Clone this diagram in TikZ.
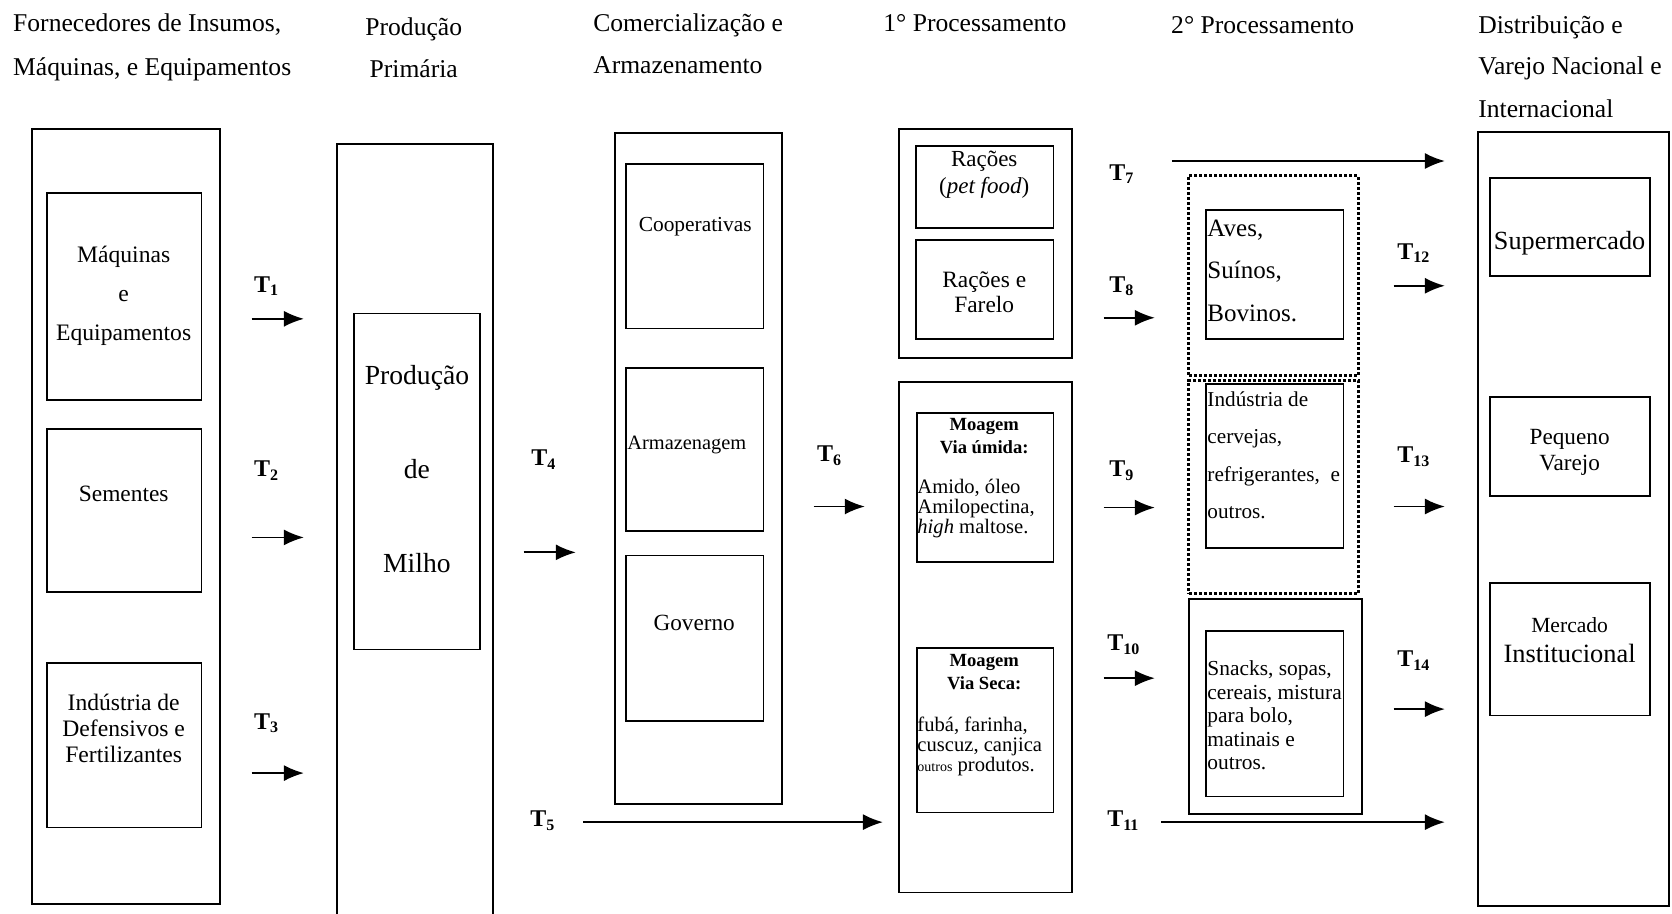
\documentclass[tikz,border=0pt]{standalone}
\usepackage{fontspec}
\setmainfont{Liberation Serif}
\usetikzlibrary{arrows.meta,fit}
\newcommand{\fsz}[2]{\fontsize{#1}{#2}\selectfont}
\begin{document}
\begin{tikzpicture}[x=0.53316pt,y=-0.53316pt,
  box/.style={draw, line width=0.9pt, inner sep=0pt},
  dbox/.style={draw, line width=1.5pt, densely dotted, inner sep=0pt},
  flow/.style={line width=0.9pt, -{Latex[length=10pt,width=8pt]}},
  tlab/.style={font=\fsz{12}{14}\bfseries, anchor=base west, inner sep=0pt},
  hd/.style={font=\fsz{12.8}{15}, anchor=base west, inner sep=0pt},
  hdc/.style={font=\fsz{12.8}{15}, anchor=base, inner sep=0pt},
  txt/.style={inner sep=0pt, align=center},
  ltxt/.style={inner sep=0pt, align=left, anchor=west},
]
\useasboundingbox (0,0) rectangle (1568,857);

% headers
\node[hd] (h1a) at (12,30) {Fornecedores de Insumos,};
\node[hd] (h1b) at (12,71) {Máquinas, e Equipamentos};
\node[hdc] (h2a) at (388,33) {Produção};
\node[hdc] (h2b) at (388,73) {Primária};
\node[hd] (h3a) at (556,30) {Comercialização e};
\node[hd] (h3b) at (556,69) {Armazenamento};
\node[hd] (h4) at (828,30) {1° Processamento};
\node[hd] (h5) at (1098,31) {2° Processamento};
\node[hd] (h6a) at (1386,31) {Distribuição e};
\node[hd] (h6b) at (1386,70) {Varejo Nacional e};
\node[hd] (h6c) at (1386,110) {Internacional};

% column 1
\node[box, fit={(30,121) (206,848)}] (c1) {};
\node[box, fit={(44,181) (189,375)}] (maqb) {};
\node[txt, font=\fsz{11.8}{19.5}] (maqt) at (116,277) {Máquinas\\e\\Equipamentos};
\node[box, fit={(44,402) (189,555)}] (semb) {};
\node[txt, font=\fsz{11.7}{14}] (semt) at (116,463) {Sementes};
\node[box, fit={(44,622) (189,776)}] (indb) {};
\node[txt, font=\fsz{11.8}{12.8}] (indt) at (116,683) {Indústria de\\Defensivos e\\Fertilizantes};

% column 2
\begin{scope}
\clip (0,0) rectangle (1568,857);
\node[box, fit={(316,135) (462,880)}] (c2) {};
\end{scope}
\node[box, fit={(332,294) (450,609)}] (milb) {};
\node[txt, font=\fsz{13.8}{47}] (milt) at (391,440) {Produção\\de\\Milho};

% column 3
\node[box, fit={(577,125) (733,754)}] (c3) {};
\node[box, fit={(587,154) (716,308)}] (coopb) {};
\node[txt, font=\fsz{10.7}{13}] (coopt) at (652,213) {Cooperativas};
\node[box, fit={(587,345) (716,498)}] (armb) {};
\node[ltxt, font=\fsz{10.2}{13}] (armt) at (588,417) {Armazenagem};
\node[box, fit={(587,521) (716,676)}] (govb) {};
\node[txt, font=\fsz{11.6}{14}] (govt) at (651,584) {Governo};

% column 4
\node[box, fit={(843,121) (1005,336)}] (c4a) {};
\node[box, fit={(859,137) (988,214)}] (petb) {};
\node[txt, font=\fsz{11.5}{13.3}] (pett) at (923,164) {Rações\\(\textit{pet food})};
\node[box, fit={(859,225) (988,318)}] (farb) {};
\node[txt, font=\fsz{11.7}{12.8}] (fart) at (923,274) {Rações e\\Farelo};
\node[box, fit={(843,358) (1005,837)}] (c4b) {};
\node[box, fit={(860,387) (988,527)}] (umb) {};
\node[txt, font=\fsz{9.3}{11.3}\bfseries] (umh) at (923,409) {Moagem\\Via úmida:};
\node[ltxt, font=\fsz{10.3}{10.1}] (umt) at (860,477) {Amido, óleo\\Amilopectina,\\\textit{high} maltose.};
\node[box, fit={(860,608) (988,762)}] (secb) {};
\node[txt, font=\fsz{9.3}{11.3}\bfseries] (sech) at (923,630) {Moagem\\Via Seca:};
\node[ltxt, font=\fsz{10.3}{10.1}] (sect) at (860,700) {fubá, farinha,\\cuscuz, canjica\\{\fsz{7}{8}outros} produtos.};

% column 5
\node[dbox, fit={(1115,165) (1274,352)}] (d1) {};
\node[box, fit={(1131,197) (1260,318)}] (avb) {};
\node[ltxt, font=\fsz{12.5}{21.3}] (avt) at (1132,254) {Aves,\\Suínos,\\Bovinos.};
\node[dbox, fit={(1115,357) (1274,557)}] (d2) {};
\node[box, fit={(1131,360) (1260,514)}] (cvb) {};
\node[ltxt, font=\fsz{10.6}{18.7}] (cvt) at (1132,427) {Indústria de\\cervejas,\\refrigerantes,~ e\\outros.};
\node[box, fit={(1115,562) (1277,763)}] (s3) {};
\node[box, fit={(1131,592) (1260,747)}] (snb) {};
\node[ltxt, font=\fsz{10.7}{11.7}] (snt) at (1132,671) {Snacks, sopas,\\cereais, mistura\\para bolo,\\matinais e\\outros.};

% column 6
\node[box, fit={(1386,124) (1565,850)}] (c6) {};
\node[box, fit={(1397,167) (1547,259)}] (supb) {};
\node[txt, font=\fsz{13.1}{15}] (supt) at (1472,228) {Supermercado};
\node[box, fit={(1397,372) (1547,465)}] (peqb) {};
\node[txt, font=\fsz{11.6}{12.8}] (peqt) at (1472,424) {Pequeno\\Varejo};
\node[box, fit={(1397,547) (1547,671)}] (merb) {};
\node[txt, font=\fsz{13.2}{15}] (mert) at (1472,600) {{\fsz{10.8}{15}Mercado}\\Institucional};

% transaction labels
\node[tlab] (t1) at (238,274) {T\textsubscript{1}};
\node[tlab] (t2) at (238,447) {T\textsubscript{2}};
\node[tlab] (t3) at (238,684) {T\textsubscript{3}};
\node[tlab] (t4) at (498,437) {T\textsubscript{4}};
\node[tlab] (t5) at (497,775) {T\textsubscript{5}};
\node[tlab] (t6) at (766,433) {T\textsubscript{6}};
\node[tlab] (t7) at (1040,169) {T\textsubscript{7}};
\node[tlab] (t8) at (1040,274) {T\textsubscript{8}};
\node[tlab] (t9) at (1040,447) {T\textsubscript{9}};
\node[tlab] (t10) at (1038,610) {T\textsubscript{10}};
\node[tlab] (t11) at (1038,775) {T\textsubscript{11}};
\node[tlab] (t12) at (1310,243) {T\textsubscript{12}};
\node[tlab] (t13) at (1310,434) {T\textsubscript{13}};
\node[tlab] (t14) at (1310,625) {T\textsubscript{14}};

% arrows
\coordinate (a1s) at (236,299);  \coordinate (a1e) at (285,299);
\coordinate (a2s) at (236,504);  \coordinate (a2e) at (285,504);
\coordinate (a3s) at (236,725);  \coordinate (a3e) at (285,725);
\coordinate (a4s) at (491,518);  \coordinate (a4e) at (540,518);
\coordinate (a5s) at (547,771);  \coordinate (a5e) at (828,771);
\coordinate (a6s) at (763,475);  \coordinate (a6e) at (811,475);
\coordinate (a7s) at (1099,151); \coordinate (a7e) at (1355,151);
\coordinate (a8s) at (1035,298); \coordinate (a8e) at (1083,298);
\coordinate (a9s) at (1035,476); \coordinate (a9e) at (1083,476);
\coordinate (a10s) at (1035,636); \coordinate (a10e) at (1083,636);
\coordinate (a11s) at (1089,771); \coordinate (a11e) at (1355,771);
\coordinate (a12s) at (1307,268); \coordinate (a12e) at (1355,268);
\coordinate (a13s) at (1307,475); \coordinate (a13e) at (1355,475);
\coordinate (a14s) at (1307,665); \coordinate (a14e) at (1355,665);
\foreach \i in {1,...,14} { \draw[flow] (a\i s) -- (a\i e); }
\end{tikzpicture}
\end{document}
